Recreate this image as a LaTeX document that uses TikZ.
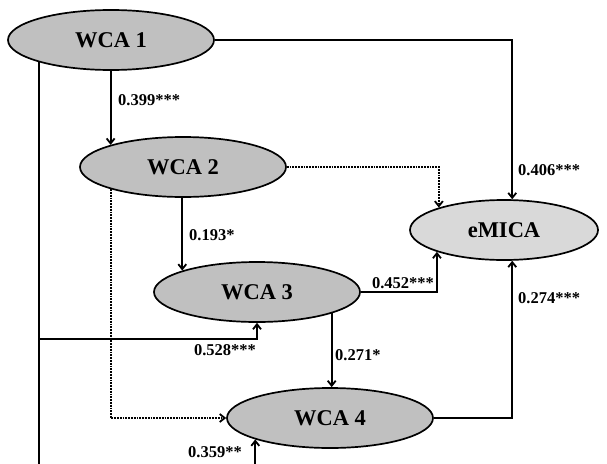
\documentclass[tikz,border=0pt]{standalone}
\usepackage{fontspec}
\setmainfont{Liberation Serif}
\usetikzlibrary{shapes.geometric,arrows.meta}
\definecolor{wcagray}{RGB}{192,192,192}
\definecolor{micagray}{RGB}{217,217,217}
\begin{document}
\begin{tikzpicture}[x=1pt,y=-1pt,>={Straight Barb[length=5pt,width=8pt]},
    wca/.style={ellipse,draw,line width=1.7pt,fill=wcagray,minimum width=206pt,minimum height=60pt,inner sep=0pt,font=\fontsize{22.5}{24}\selectfont\bfseries},
    coef/.style={font=\fontsize{16.5}{18}\selectfont\bfseries,inner sep=0pt},
    link/.style={line width=1.8pt,->},
    dotlink/.style={line width=1.8pt,->,densely dotted}]
            \useasboundingbox (0,0) rectangle (607,463);
            \clip (0,0) rectangle (607,463);
            \node[wca] (w1) at (111,40) {WCA 1};
            \node[wca] (w2) at (183,167) {WCA 2};
            \node[wca] (w3) at (257,292) {WCA 3};
            \node[wca] (w4) at (330,418) {WCA 4};
            \node[wca,fill=micagray,minimum width=188pt] (emica) at (504,230) {eMICA};
            \draw[link] (w2.163 |- w1.south) -- (w2.163);
            \draw[link] (w3.164 |- w2.south) -- (w3.164);
            \draw[link] (w3.-16) -- (w3.-16 |- w4.north);
            \draw[link] (w1.east) -| (emica.75);
            \draw[link] (w3.east) -| (emica.198);
            \draw[link] (w4.east) -| (emica.-75);
            \draw[link] (w1.197) |- ([yshift=-16pt]w3.south) -- (w3.south);
            \draw[link] (w1.197) |- ([yshift=-25pt]w4.196) -- (w4.196);
            \draw[dotlink] (w2.east) -| (emica.161);
            \draw[dotlink] (w2.197) |- (w4.west);
            \node[coef,anchor=west] (c12) at (118,100) {0.399***};
            \node[coef,anchor=west] (c1e) at (518,170) {0.406***};
            \node[coef,anchor=west] (c23) at (189,235) {0.193*};
            \node[coef] (c3e) at (403,283) {0.452***};
            \node[coef] (c13) at (225,350) {0.528***};
            \node[coef,anchor=west] (c34) at (335,355) {0.271*};
            \node[coef,anchor=west] (c4e) at (518,298) {0.274***};
            \node[coef] (c14) at (215,452) {0.359**};
\end{tikzpicture}
\end{document}
